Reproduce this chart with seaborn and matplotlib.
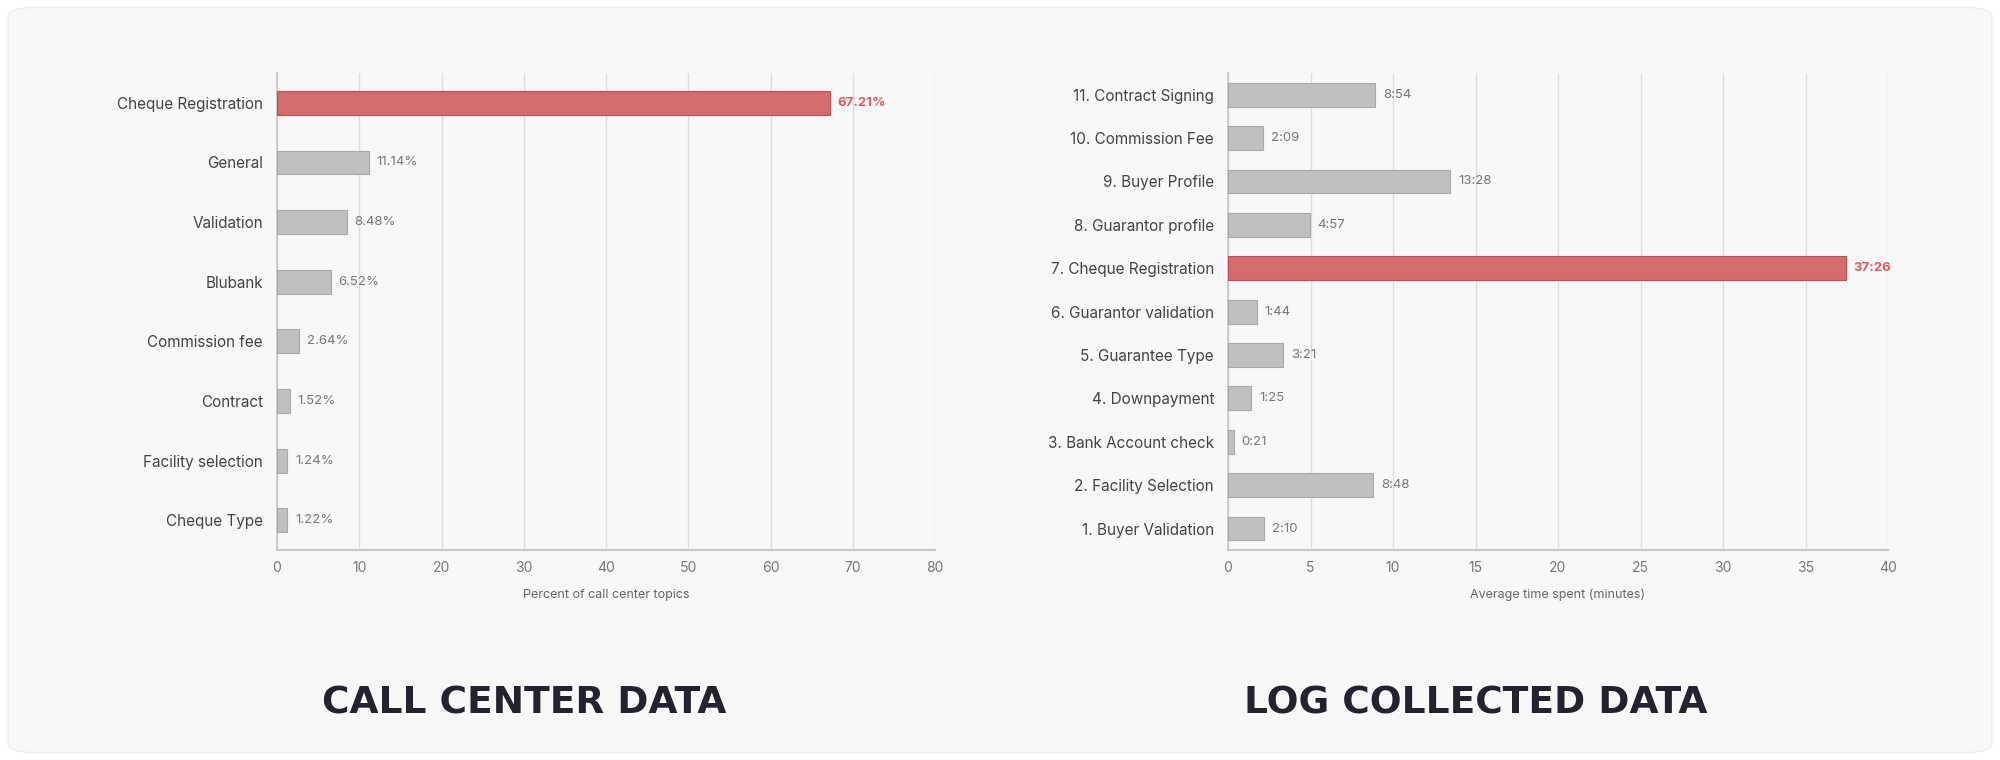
import matplotlib
matplotlib.use("Agg")
import matplotlib.pyplot as plt
from matplotlib.patches import FancyBboxPatch
import seaborn as sns
import pandas as pd

call_topics = ["Cheque Registration", "General", "Validation", "Blubank",
               "Commission fee", "Contract", "Facility selection", "Cheque Type"]
call_pct = [67.21, 11.14, 8.48, 6.52, 2.64, 1.52, 1.24, 1.22]

log_steps = ["11. Contract Signing", "10. Commission Fee", "9. Buyer Profile",
             "8. Guarantor profile", "7. Cheque Registration", "6. Guarantor validation",
             "5. Guarantee Type", "4. Downpayment", "3. Bank Account check",
             "2. Facility Selection", "1. Buyer Validation"]
log_time = ["8:54", "2:09", "13:28", "4:57", "37:26", "1:44", "3:21", "1:25", "0:21", "8:48", "2:10"]

def to_min(s):
    m, sec = s.split(":")
    return int(m) + int(sec) / 60

sns.set_theme(style="white")
plt.rcParams['font.family'] = ['Inter', 'DejaVu Sans']

RED = "#e55a5e"
GRAY = "#c0c0c0"
BG = "#f8f8f8"

fig = plt.figure(figsize=(20, 7.6), dpi=100)
fig.patch.set_facecolor("white")
card = FancyBboxPatch((0.004, 0.01), 0.992, 0.98, boxstyle="round,pad=0,rounding_size=0.012",
                      transform=fig.transFigure, facecolor=BG, edgecolor="#eeeeee", lw=1,
                      zorder=-10)
fig.patches.append(card)

def panel(rect, cats, vals, labels, xmax, step, xlabel, width):
    ax = fig.add_axes(rect)
    ax.set_facecolor(BG)
    df = pd.DataFrame({"cat": cats, "val": vals})
    hi = df["val"].idxmax()
    colors = [RED if i == hi else GRAY for i in range(len(df))]
    sns.barplot(data=df, y="cat", x="val", hue="cat", palette=colors, legend=False,
                width=width, ax=ax, linewidth=0, zorder=3)
    for i, p in enumerate(ax.patches):
        p.set_edgecolor("#a9a9a9" if i != hi else "#c94a4e")
        p.set_linewidth(0.8)
    ax.set_xlim(0, xmax)
    ax.set_xticks(range(0, xmax + 1, step))
    ax.grid(axis="x", color="#dedede", lw=1, zorder=0)
    for s in ["top", "right"]:
        ax.spines[s].set_visible(False)
    ax.spines["left"].set_color("#c8c8c8")
    ax.spines["bottom"].set_color("#c8c8c8")
    ax.spines["bottom"].set_linewidth(1.5)
    ax.set_ylabel("")
    ax.set_xlabel(xlabel, fontsize=9, color="#666666", labelpad=10)
    ax.tick_params(axis="y", labelsize=11, colors="#444444", length=0, pad=10)
    ax.tick_params(axis="x", labelsize=10, colors="#777777", length=4, color="#c8c8c8")
    for i, (v, lab) in enumerate(zip(vals, labels)):
        ax.text(v + xmax * 0.012, i, lab, va="center", ha="left", fontsize=9.5,
                color=RED if i == hi else "#777777",
                fontweight="bold" if i == hi else "normal")
    return ax

panel([0.1385, 0.276, 0.329, 0.628], call_topics, call_pct,
      [f"{v:.2f}%" for v in call_pct], 80, 10, "Percent of call center topics", 0.4)
panel([0.614, 0.276, 0.33, 0.628], log_steps, [to_min(t) for t in log_time],
      log_time, 40, 5, "Average time spent (minutes)", 0.55)

for x, t in [(0.262, "CALL CENTER DATA"), (0.738, "LOG COLLECTED DATA")]:
    fig.text(x, 0.074, t, ha="center", va="center", fontsize=27,
             fontweight="heavy", color="#23232f", family=["DejaVu Sans"])

fig.savefig("out.png", dpi=100, facecolor=fig.get_facecolor())
